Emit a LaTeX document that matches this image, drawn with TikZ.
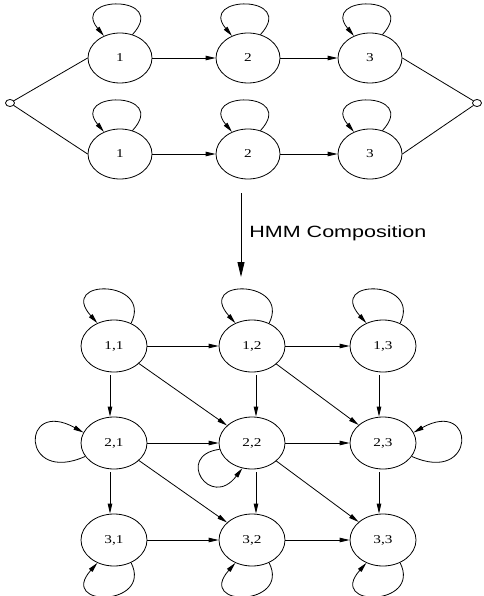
\documentclass[tikz,border=0pt]{standalone}
\usepackage{fontspec}
\usepackage{graphicx}
\setmainfont{Liberation Serif}
\newfontfamily\hmmsans{Liberation Sans}
\usetikzlibrary{arrows.meta,shapes.geometric}
\newcommand\mywide[2][1.27]{\scalebox{#1}[1]{#2}}
\begin{document}
\begin{tikzpicture}[x=1pt,y=1pt,line width=0.8pt,
  st/.style={draw,ellipse,inner sep=0pt,minimum width=64pt,minimum height=50pt,font=\fontsize{12}{12}\selectfont},
  gst/.style={st,minimum width=66pt,minimum height=52pt},
  term/.style={draw,ellipse,inner sep=0pt,minimum width=9pt,minimum height=7pt},
  arr/.style={-{Triangle[length=10pt,width=4.5pt]}},
  bigarr/.style={-{Triangle[length=15pt,width=7pt]}}]
\fill[white] (0,0) rectangle (483,-596);
\useasboundingbox (0,0) rectangle (483,-596);

% ---- two left-to-right HMMs ----
\node[st] (a1) at (120,-58) {\mywide{1}};
\node[st] (a2) at (248,-58) {\mywide{2}};
\node[st] (a3) at (370,-58) {\mywide{3}};
\node[st] (b1) at (120,-154) {\mywide{1}};
\node[st] (b2) at (248,-154) {\mywide{2}};
\node[st] (b3) at (370,-154) {\mywide{3}};
\node[term] (L) at (10,-103) {};
\node[term] (R) at (477,-103) {};

\draw (L) -- (a1.west);
\draw (L) -- (b1.west);
\draw (a3.east) -- (R);
\draw (b3.east) -- (R);
\draw[arr] (a1) -- (a2);
\draw[arr] (a2) -- (a3);
\draw[arr] (b1) -- (b2);
\draw[arr] (b2) -- (b3);
\foreach \n in {a1,a2,a3,b1,b2,b3}{
  \draw[arr] (\n.62) .. controls +(37,40) and +(-34,41) .. (\n.126);
}

% ---- composition arrow ----
\coordinate (hs) at (241,-193);
\coordinate (he) at (241,-277);
\draw[bigarr] (hs) -- (he);
\node[anchor=base west,inner sep=0pt,font=\hmmsans\fontsize{16.3}{16}\selectfont] (lab) at (249,-237.7) {\mywide[1.32]{HMM Composition}};

% ---- composed HMM ----
\node[gst] (g11) at (114,-346) {\mywide{1,1}};
\node[gst] (g12) at (252,-346) {\mywide{1,2}};
\node[gst] (g13) at (383,-346) {\mywide{1,3}};
\node[gst] (g21) at (114,-443) {\mywide{2,1}};
\node[gst] (g22) at (252,-443) {\mywide{2,2}};
\node[gst] (g23) at (383,-443) {\mywide{2,3}};
\node[gst] (g31) at (114,-540) {\mywide{3,1}};
\node[gst] (g32) at (252,-540) {\mywide{3,2}};
\node[gst] (g33) at (383,-540) {\mywide{3,3}};

% horizontal
\draw[arr] (g11) -- (g12);
\draw[arr] (g12) -- (g13);
\draw[arr] (g21) -- (g22);
\draw[arr] (g22) -- (g23);
\draw[arr] (g31) -- (g32);
\draw[arr] (g32) -- (g33);
% vertical
\draw[arr,shorten <=3pt] ([xshift=-4pt]g11.south) -- ([xshift=-4pt]g21.north);
\draw[arr,shorten <=3pt] ([xshift=4pt]g12.south) -- ([xshift=4pt]g22.north);
\draw[arr,shorten <=3pt] ([xshift=-4pt]g13.south) -- ([xshift=-4pt]g23.north);
\draw[arr,shorten <=3pt] ([xshift=-4pt]g21.south) -- ([xshift=-4pt]g31.north);
\draw[arr,shorten <=3pt] ([xshift=4pt]g22.south) -- ([xshift=4pt]g32.north);
\draw[arr,shorten <=3pt] ([xshift=-4pt]g23.south) -- ([xshift=-4pt]g33.north);
% diagonal
\draw[arr] (g11) -- (g22);
\draw[arr] (g12) -- (g23);
\draw[arr] (g21) -- (g32);
\draw[arr] (g22) -- (g33);

% self loops
\foreach \n in {g11,g12,g13}{
  \draw[arr] (\n.53) .. controls +(22,44) and +(-40,45) .. (\n.126);
}
\foreach \n in {g31,g32,g33}{
  \draw[arr] (\n.-53) .. controls +(22,-44) and +(-40,-45) .. (\n.-126);
}
\draw[arr] (g21.205) .. controls +(-65,-29) and +(-63,35) .. (g21.161);
\draw[arr] (g23.-25) .. controls +(65,-29) and +(63,35) .. (g23.19);
\draw[arr] (g22.191) .. controls +(-45,-6) and +(-32,-42) .. (g22.249);
\end{tikzpicture}
\end{document}
